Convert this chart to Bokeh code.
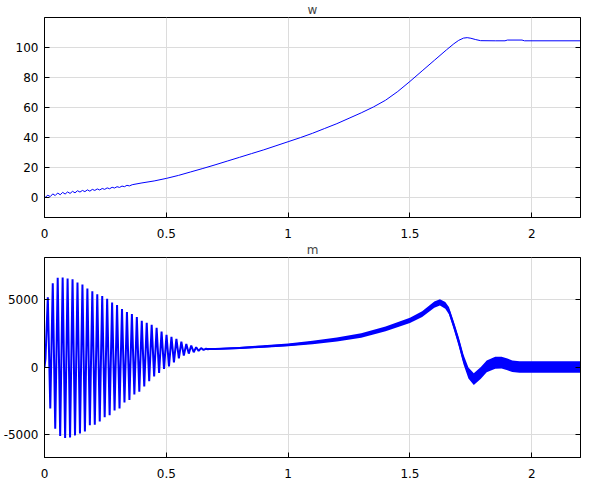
from bokeh.plotting import figure
from bokeh.layouts import column
from bokeh.models import Range1d, FixedTicker, LinearAxis, CustomLabelingPolicy
from bokeh.embed import file_html
from bokeh.resources import INLINE

# ---------------- data ----------------
x_ticks = [0, 0.5, 1, 1.5, 2]
x_tick_labels = ["0", "0.5", "1", "1.5", "2"]
w_ticks = [0, 20, 40, 60, 80, 100]
w_tick_labels = ["0", "20", "40", "60", "80", "100"]
m_ticks = [-5000, 0, 5000]
m_tick_labels = ["-5000", "0", "5000"]

# w: early ripple part (samples every half ripple period, from t0)
w_ripple_t0 = 0.0136
w_ripple_step = 0.01015
w_ripple = [1.8, 0.9, 2.7, 1.6, 3.3, 2.1, 3.7, 2.6, 4.0, 3.0, 4.4, 3.4,
            4.8, 3.9, 5.0, 4.2, 5.4, 4.5, 5.7, 5.0, 6.0, 5.3, 6.3, 5.7,
            6.7, 6.1, 7.1, 6.6, 7.5, 7.0, 7.9, 7.5, 8.4, 8.0]
# w: smooth part
w_t = [0.36, 0.40, 0.45, 0.50, 0.55, 0.60, 0.65, 0.70, 0.75, 0.80, 0.85,
       0.90, 0.95, 1.00, 1.05, 1.10, 1.15, 1.20, 1.25, 1.30, 1.35, 1.40,
       1.45, 1.50, 1.55, 1.60, 1.65, 1.68, 1.70, 1.72, 1.735, 1.75, 1.77,
       1.79, 1.85, 1.89, 1.90, 1.96, 1.97, 2.2]
w_v = [8.8, 10.0, 11.3, 13.0, 15.0, 17.3, 19.6, 22.0, 24.5, 27.0, 29.5,
       32.0, 34.7, 37.4, 40.1, 43.0, 46.2, 49.4, 53.0, 56.6, 60.5, 65.0,
       70.8, 77.5, 84.5, 91.5, 98.5, 102.5, 104.8, 106.3, 106.6, 106.2, 105.3,
       104.6, 104.5, 104.5, 105.0, 105.0, 104.5, 104.5]

# m: start-up oscillation, peaks and troughs of each cycle
m_osc_t0 = 0.0136
m_osc_period = 0.0203
m_start_t = [0.0, 0.004]
m_start_v = [0, 600]
m_peaks = [5200, 6250, 6650, 6680, 6600, 6550, 6300, 6150, 5850, 5650, 5420,
           5300, 5100, 4820, 4620, 4330, 4100, 3950, 3720, 3450, 3300, 3150,
           2920, 2650, 2400, 2250, 2100, 1900, 1720, 1600, 1480, 1410, 1370]
m_troughs = [-3100, -4600, -5150, -5300, -5250, -5100, -4950, -4800, -4350,
             -4300, -4070, -3750, -3600, -3250, -3100, -2650, -2450, -2050,
             -1850, -1450, -1050, -700, -450, -150, 50, 350, 650, 850, 1000,
             1100, 1200, 1270, 1310]
# m: after start-up, centre line and half-width of the ripple band
m_band_t = [0.66, 0.70, 0.80, 0.90, 1.00, 1.10, 1.20, 1.30, 1.40, 1.50, 1.55,
            1.60, 1.623, 1.645, 1.66, 1.68, 1.70, 1.72, 1.74, 1.762, 1.79,
            1.815, 1.85, 1.876, 1.90, 1.92, 1.95, 2.00, 2.10, 2.20]
m_band_mid = [1340, 1340, 1420, 1530, 1650, 1830, 2050, 2350, 2850, 3480, 3950,
              4650, 4820, 4600, 4200, 3100, 1900, 550, -450, -900, -450,
              50, 320, 330, 200, 60, 0, 0, 0, 0]
m_band_half = [60, 60, 70, 90, 110, 130, 150, 165, 180, 195, 210,
               230, 240, 250, 270, 300, 330, 370, 410, 440, 440,
               440, 440, 440, 440, 430, 430, 430, 430, 430]

# ---------------- build series ----------------
w_x = [0.0] + [w_ripple_t0 + w_ripple_step * j for j in range(len(w_ripple))] + w_t
w_y = [0.0] + w_ripple + w_v

m_x = list(m_start_t)
m_y = list(m_start_v)
for k, (pk, tr) in enumerate(zip(m_peaks, m_troughs)):
    tk = m_osc_t0 + m_osc_period * k
    m_x += [tk, tk + m_osc_period / 2]
    m_y += [pk, tr]

band_lo = [c - h for c, h in zip(m_band_mid, m_band_half)]
band_hi = [c + h for c, h in zip(m_band_mid, m_band_half)]

FONT = "DejaVu Sans"
BLUE = "#0000ff"
GRID = "#dcdcdc"


def make_fig(title, y0, y1, yticks, ylabels):
    p = figure(frame_width=536, frame_height=200, x_range=Range1d(0, 2.2),
               y_range=Range1d(y0, y1), output_backend="svg",
               toolbar_location=None, min_border_left=37, min_border_right=1,
               min_border_top=0, min_border_bottom=0, background_fill_color="white",
               border_fill_color="white")
    p.title.text = title
    p.title.align = "center"
    p.title.text_font = FONT
    p.title.text_font_size = "12px"
    p.title.text_font_style = "normal"
    p.title.standoff = 1
    p.title.offset = 0
    p.outline_line_color = "black"
    p.outline_line_alpha = 1
    for ax in (p.xaxis[0], p.yaxis[0]):
        ax.major_tick_in = 5
        ax.major_tick_out = 0
        ax.minor_tick_line_color = None
        ax.axis_line_color = "black"
        ax.major_tick_line_color = "black"
        ax.major_label_text_font = FONT
        ax.major_label_text_font_size = "12px"
        ax.major_label_text_color = "black"
    p.xaxis.ticker = FixedTicker(ticks=x_ticks)
    p.xaxis.major_label_overrides = {t: l for t, l in zip(x_ticks, x_tick_labels)}
    p.xaxis.major_label_standoff = 11
    p.yaxis.ticker = FixedTicker(ticks=yticks)
    p.yaxis.major_label_overrides = {t: l for t, l in zip(yticks, ylabels)}
    p.yaxis.major_label_standoff = 6
    r = LinearAxis(ticker=FixedTicker(ticks=yticks), major_tick_in=5,
                   major_tick_out=0, minor_tick_line_color=None,
                   major_label_policy=CustomLabelingPolicy(code="return new Set()"),
                   major_label_standoff=0, axis_line_color="black")
    p.add_layout(r, "right")
    p.xgrid.ticker = FixedTicker(ticks=x_ticks)
    p.ygrid.ticker = FixedTicker(ticks=yticks)
    p.grid.grid_line_color = GRID
    p.grid.grid_line_alpha = 1
    return p


p1 = make_fig("w", -13, 120, w_ticks, w_tick_labels)
p1.line(w_x, w_y, line_color=BLUE, line_width=1)

p2 = make_fig("m", -6750, 8170, m_ticks, m_tick_labels)
p2.line(m_x, m_y, line_color=BLUE, line_width=2)
p2.varea(x=m_band_t, y1=band_lo, y2=band_hi, fill_color=BLUE)
p2.line(m_band_t, m_band_mid, line_color=BLUE, line_width=2)

layout = column(p1, p2, spacing=0)
open("out.html", "w").write(file_html(layout, INLINE))
